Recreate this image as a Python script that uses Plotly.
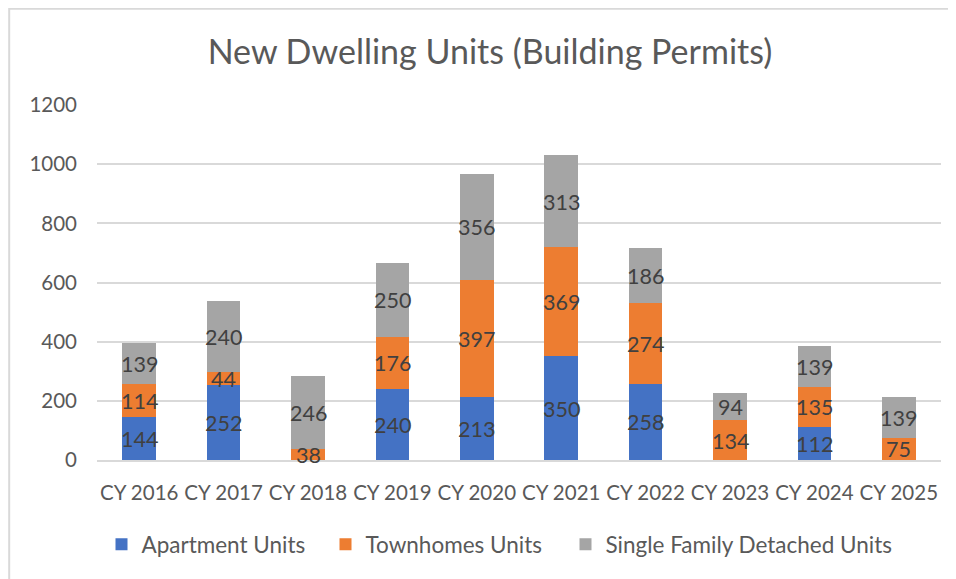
import plotly.graph_objects as go

years = ["CY 2016", "CY 2017", "CY 2018", "CY 2019", "CY 2020", "CY 2021", "CY 2022", "CY 2023", "CY 2024", "CY 2025"]
apartment = [144, 252, None, 240, 213, 350, 258, None, 112, None]
townhomes = [114, 44, 38, 176, 397, 369, 274, 134, 135, 75]
single_family = [139, 240, 246, 250, 356, 313, 186, 94, 139, 139]

series = [
    ("Apartment Units", apartment, "#4472C4"),
    ("Townhomes Units", townhomes, "#ED7D31"),
    ("Single Family Detached Units", single_family, "#A5A5A5"),
]

FONT = "Lato"
# figure is placed at (8, 8) on the page; work in figure pixel coordinates
W, H = 948, 571
L, R, T, B = 89, 15, 97, 119
pw, ph = W - L - R, H - T - B
Y_MAX = 1200


def px_x(x):
    return (x - L) / pw


def px_y(y):
    return (H - B - y) / ph


legend_names = ["legend", "legend2", "legend3"]
legend_marker_centers = [113.5, 337.5, 577.5]

fig = go.Figure()
base = [0] * len(years)
annotations = []
for (name, vals, col), lg in zip(series, legend_names):
    fig.add_trace(go.Bar(
        x=years, y=vals, name=name, legend=lg,
        marker=dict(color=col, line=dict(width=0)),
        hoverinfo="x+y+name",
    ))
    for i, v in enumerate(vals):
        if v is None:
            continue
        annotations.append(dict(
            x=years[i], y=base[i] + v / 2, xref="x", yref="y", text=str(v),
            showarrow=False, xanchor="center", yanchor="middle", yshift=-0.5,
            font=dict(family=FONT, size=21.5, color="#404040"),
        ))
        base[i] += v

legend_common = dict(orientation="h", xanchor="left", yanchor="middle", y=px_y(536.5),
                     font=dict(family=FONT, size=22.5, color="#595959"), bgcolor="rgba(0,0,0,0)")
layout_legends = {}
for lg, cx in zip(legend_names, legend_marker_centers):
    layout_legends[lg] = dict(legend_common, x=px_x(cx - 20))

fig.update_layout(
    barmode="stack", bargap=0.6,
    width=W, height=H,
    margin=dict(l=L, r=R, t=T, b=B, autoexpand=False),
    paper_bgcolor="white", plot_bgcolor="white",
    font=dict(family=FONT, color="#595959"),
    title=dict(text="New Dwelling Units (Building Permits)", font=dict(family=FONT, size=34, color="#595959"),
               x=px_x(482), xref="paper", xanchor="center", y=1 - 44 / H, yanchor="middle"),
    showlegend=True,
    annotations=annotations,
    yaxis=dict(range=[0, Y_MAX], dtick=200, showgrid=True, gridcolor="#D9D9D9", gridwidth=1.5,
               zeroline=False, ticks="", tickfont=dict(family=FONT, size=20.5, color="#595959"),
               ticklabelstandoff=19, showline=False),
    xaxis=dict(showline=True, linecolor="#D9D9D9", linewidth=1.5, ticks="",
               tickfont=dict(family=FONT, size=20.5, color="#595959"), ticklabelstandoff=14),
    shapes=[dict(type="rect", xref="paper", yref="paper",
                 x0=px_x(1.2), x1=px_x(W + 20), y0=px_y(H + 20), y1=px_y(0.8),
                 line=dict(color="#D9D9D9", width=2), layer="below")],
    **layout_legends,
)

fig.write_html("out.html")
